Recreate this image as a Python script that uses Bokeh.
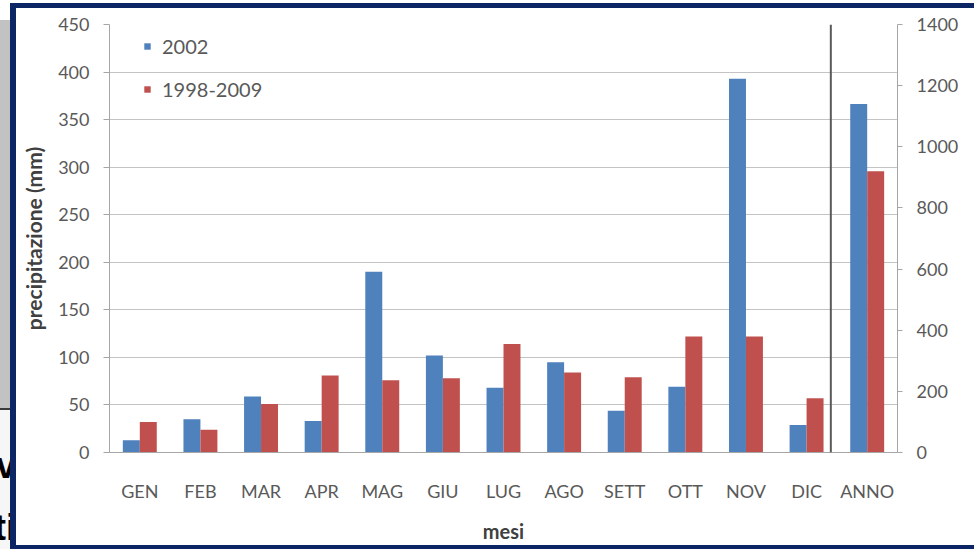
from bokeh.plotting import figure
from bokeh.layouts import row
from bokeh.models import (Range1d, FactorRange, LinearAxis, Legend, LegendItem, Span,
                          Div, FixedTicker, ColumnDataSource)
from bokeh.transform import dodge
from bokeh.embed import file_html
from bokeh.resources import INLINE

# Monthly precipitation (mm): 2002 against the 1998-2009 average
months = ["GEN", "FEB", "MAR", "APR", "MAG", "GIU", "LUG", "AGO", "SETT", "OTT", "NOV", "DIC"]
rain_2002 = [13, 35, 59, 33, 190, 102, 68, 95, 44, 69, 393, 29]
rain_mean = [32, 24, 51, 81, 76, 78, 114, 84, 79, 122, 122, 57]

# Annual totals (mm), read on the right-hand axis
annual_label = "ANNO"
annual_2002 = [1140]
annual_mean = [920]

series_names = ["2002", "1998-2009"]
left_ticks = list(range(0, 451, 50))
right_ticks = list(range(0, 1401, 200))

BLUE = "#4F81BD"
RED = "#C0504D"
FONT = "Lato"
TEXT = "#595959"
GRID = "#c4c4c4"
NAVY = "#0b2565"

categories = months + [annual_label]
separator_at = 11.9          # thin rule between December and the annual total
bar_w = 0.28

chart = figure(width=964, height=549,
               x_range=FactorRange(factors=categories, range_padding=0),
               y_range=Range1d(0, 450),
               output_backend="svg", toolbar_location=None,
               min_border_left=99, min_border_right=77,
               min_border_top=24, min_border_bottom=97)
chart.extra_y_ranges = {"anno": Range1d(0, 1400)}
chart.background_fill_color = "white"
chart.border_fill_alpha = 0
chart.outline_line_color = None

# navy frame of the slide panel, painted behind the transparent border area
bar = f"linear-gradient({NAVY},{NAVY})"
chart.styles = {
    "background": (f"{bar} 0px 3px / 964px 5px no-repeat, "
                   f"{bar} 0px 3px / 6px 546px no-repeat, "
                   f"{bar} 0px 545px / 964px 4px no-repeat, #ffffff"),
}

monthly = ColumnDataSource(dict(x=months, a=rain_2002, b=rain_mean))
annual = ColumnDataSource(dict(x=[annual_label], a=annual_2002, b=annual_mean))

r_a = chart.vbar(x=dodge("x", -bar_w / 2, range=chart.x_range), top="a", width=bar_w,
                 source=monthly, fill_color=BLUE, line_color=None)
r_b = chart.vbar(x=dodge("x", bar_w / 2, range=chart.x_range), top="b", width=bar_w,
                 source=monthly, fill_color=RED, line_color=None)
chart.vbar(x=dodge("x", -bar_w / 2, range=chart.x_range), top="a", width=bar_w,
           source=annual, fill_color=BLUE, line_color=None, y_range_name="anno")
chart.vbar(x=dodge("x", bar_w / 2, range=chart.x_range), top="b", width=bar_w,
           source=annual, fill_color=RED, line_color=None, y_range_name="anno")

chart.add_layout(Span(location=separator_at, dimension="height",
                      line_color="#5a5a5a", line_width=2))

# grid
chart.xgrid.visible = False
chart.ygrid.ticker = FixedTicker(ticks=left_ticks)
chart.ygrid.grid_line_color = GRID
chart.ygrid.grid_line_width = 1

# left axis
ya = chart.yaxis[0]
ya.ticker = FixedTicker(ticks=left_ticks)
ya.axis_label = "precipitazione (mm)"
ya.axis_label_text_font = FONT
ya.axis_label_text_font_style = "bold"
ya.axis_label_text_font_size = "21px"
ya.axis_label_text_color = "#404040"
ya.axis_label_standoff = 9
ya.major_label_text_font = FONT
ya.major_label_text_font_size = "18px"
ya.major_label_text_color = TEXT
ya.major_label_standoff = 14
ya.major_tick_out = 6
ya.major_tick_in = 0
ya.minor_tick_out = 0
ya.minor_tick_in = 0
ya.axis_line_color = "#a6a6a6"
ya.major_tick_line_color = "#a6a6a6"

# right axis for the annual totals
ra = LinearAxis(y_range_name="anno", ticker=FixedTicker(ticks=right_ticks))
ra.major_label_text_font = FONT
ra.major_label_text_font_size = "18px"
ra.major_label_text_color = TEXT
ra.major_label_standoff = 14
ra.major_tick_out = 5
ra.major_tick_in = 0
ra.minor_tick_out = 0
ra.minor_tick_in = 0
ra.axis_line_color = "#a6a6a6"
ra.major_tick_line_color = "#a6a6a6"
chart.add_layout(ra, "right")

# category axis
xa = chart.xaxis[0]
xa.axis_label = "mesi"
xa.axis_label_text_font = FONT
xa.axis_label_text_font_style = "bold"
xa.axis_label_text_font_size = "20px"
xa.axis_label_text_color = "#404040"
xa.axis_label_standoff = 14
xa.major_label_text_font = FONT
xa.major_label_text_font_size = "18px"
xa.major_label_text_color = TEXT
xa.major_label_standoff = 27
xa.major_tick_out = 0
xa.major_tick_in = 0
xa.axis_line_color = "#a6a6a6"

legend = Legend(items=[LegendItem(label=series_names[0], renderers=[r_a]),
                       LegendItem(label=series_names[1], renderers=[r_b])],
                location=(30, 347), orientation="vertical")
legend.label_text_font = FONT
legend.label_text_font_size = "20px"
legend.label_text_color = TEXT
legend.glyph_width = 8
legend.glyph_height = 8
legend.label_height = 20
legend.label_standoff = 11
legend.spacing = 19
legend.padding = 4
legend.margin = 0
legend.border_line_alpha = 0
legend.background_fill_alpha = 0
chart.add_layout(legend)

# strip of the slide visible to the left of the panel
strip_html = """
<div style="position:relative;width:10px;height:549px;overflow:hidden;background:#ffffff;">
  <div style="position:absolute;left:0;top:20px;width:10px;height:388px;background:#c2c2c2;"></div>
  <div style="position:absolute;left:0;top:408px;width:10px;height:2px;background:#3a3a3a;"></div>
  <div style="position:absolute;left:0;top:410px;width:10px;height:139px;background:#f6f6f6;"></div>
  <div style="position:absolute;right:-6px;top:446px;font:bold 36px 'Liberation Sans';
              line-height:40px;color:#000000;white-space:nowrap;">v</div>
  <div style="position:absolute;right:-6px;top:508px;font:bold 36px 'Liberation Sans';
              line-height:40px;color:#000000;white-space:nowrap;">ti</div>
</div>
"""
strip = Div(text=strip_html, width=10, height=549,
            styles={"margin": "0", "padding": "0", "overflow": "hidden"})

p = row(strip, chart, spacing=0)

open("out.html", "w").write(file_html(p, INLINE))
